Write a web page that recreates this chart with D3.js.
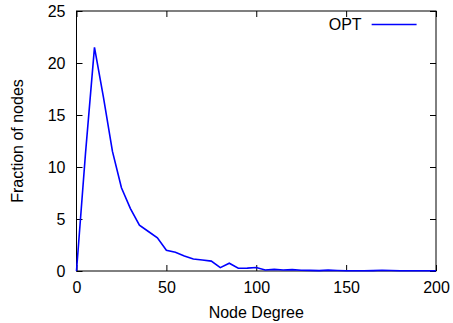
<!DOCTYPE html>
<html>
<head>
<meta charset="utf-8">
<script src="https://cdn.jsdelivr.net/npm/d3@7"></script>
<style>
  body { margin: 0; background: #fff; }
  text { font-family: "Liberation Sans", Arial, sans-serif; }
  .axis path, .axis line { stroke: #000; }
</style>
</head>
<body>
<div id="chart"></div>
<script>
// values
var degree = [0, 5, 10, 15, 20, 25, 30, 35, 40, 45, 50, 55, 60, 65, 70, 75, 80, 85, 90, 95,
    100, 105, 110, 115, 120, 125, 130, 135, 140, 145, 150, 155, 160, 165, 170, 175, 180, 185, 190, 195, 200];
var fraction = [0, 11.3, 21.5, 16.7, 11.5, 8.0, 6.0, 4.4, 3.8, 3.2, 2.0, 1.8, 1.45, 1.15, 1.05, 0.95, 0.32, 0.75, 0.27, 0.28,
    0.33, 0.1, 0.16, 0.1, 0.13, 0.07, 0.06, 0.04, 0.08, 0.05, 0.03, 0.02, 0.02, 0.04, 0.07, 0.05, 0.03, 0.02, 0.03, 0.02, 0.03];
var xTicks = [0, 50, 100, 150, 200];
var yTicks = [0, 5, 10, 15, 20, 25];
var seriesName = "OPT";

var margin = { top: 11, right: 17, bottom: 52, left: 76.5 },
    width = 453 - margin.left - margin.right,
    height = 323 - margin.top - margin.bottom;

var fontSize = "16px";

var svg = d3.select("#chart")
    .append("svg")
    .attr("width", 453)
    .attr("height", 323)
    .append("g")
    .attr("transform", "translate(" + margin.left + "," + margin.top + ")");

var x = d3.scaleLinear().domain([0, 200]).range([0, width]);
var y = d3.scaleLinear().domain([0, 25]).range([height, 0]);

// bottom + top axes (ticks point inward)
svg.append("g")
    .attr("class", "axis")
    .attr("transform", "translate(0," + height + ")")
    .call(d3.axisBottom(x).tickValues(xTicks).tickSizeInner(-6).tickSizeOuter(0).tickPadding(11))
    .call(function (g) { g.selectAll("text").style("font-size", fontSize).attr("fill", "#000"); });

svg.append("g")
    .attr("class", "axis")
    .call(d3.axisTop(x).tickValues(xTicks).tickSizeInner(-6).tickSizeOuter(0).tickFormat(""));

// left + right axes
svg.append("g")
    .attr("class", "axis")
    .call(d3.axisLeft(y).tickValues(yTicks).tickSizeInner(-6).tickSizeOuter(0).tickPadding(11))
    .call(function (g) { g.selectAll("text").style("font-size", fontSize).attr("fill", "#000"); });

svg.append("g")
    .attr("class", "axis")
    .attr("transform", "translate(" + width + ",0)")
    .call(d3.axisRight(y).tickValues(yTicks).tickSizeInner(-6).tickSizeOuter(0).tickFormat(""));

svg.selectAll(".axis .domain").remove();

// frame
svg.append("rect")
    .attr("width", width)
    .attr("height", height)
    .attr("fill", "none")
    .attr("stroke", "#000")
    .attr("stroke-width", 1);

// the series
var line = d3.line()
    .x(function (d, i) { return x(degree[i]); })
    .y(function (d) { return y(d); });

svg.append("path")
    .datum(fraction)
    .attr("fill", "none")
    .attr("stroke", "#0000ff")
    .attr("stroke-width", 1.6)
    .attr("d", line);

// legend
svg.append("text")
    .attr("x", x(158.6))
    .attr("y", 18.5)
    .attr("text-anchor", "end")
    .style("font-size", fontSize)
    .text(seriesName);

svg.append("line")
    .attr("x1", x(164.2))
    .attr("x2", x(189.2))
    .attr("y1", 13.5)
    .attr("y2", 13.5)
    .attr("stroke", "#0000ff")
    .attr("stroke-width", 1.6);

// axis labels
svg.append("text")
    .attr("text-anchor", "middle")
    .attr("x", width / 2)
    .attr("y", height + 47)
    .style("font-size", fontSize)
    .text("Node Degree");

svg.append("text")
    .attr("text-anchor", "middle")
    .attr("transform", "rotate(-90)")
    .attr("x", -height / 2)
    .attr("y", -54)
    .style("font-size", fontSize)
    .text("Fraction of nodes");
</script>
</body>
</html>
